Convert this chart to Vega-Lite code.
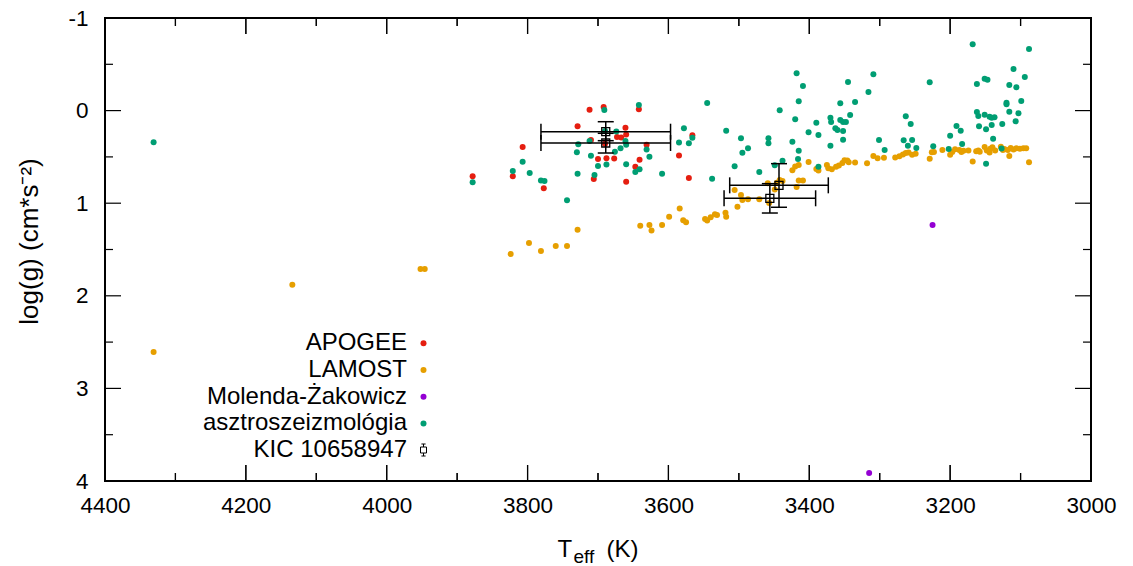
{
"$schema": "https://vega.github.io/schema/vega-lite/v6.json",
"width": 986, "height": 463,
"autosize": {"type": "none"},
"padding": {"left": 105, "top": 18, "right": 42, "bottom": 85},
"background": "white",
"config": {
  "view": {"stroke": "black", "strokeWidth": 2},
  "font": "Liberation Sans",
  "axis": {"labelFont": "Liberation Sans", "labelFontSize": 22.5, "labelColor": "black", "titleFont": "Liberation Sans", "titleFontSize": 24, "titleColor": "black", "titleFontWeight": "normal", "domain": false, "grid": false, "labelFlush": false, "labelOverlap": false},
  "legend": {"labelFont": "Liberation Sans", "labelFontSize": 24, "labelColor": "black", "labelLimit": 0}
},
"datasets": {
  "xtk": [{"tx":4400,"m":"major"},{"tx":4300,"m":"minor"},{"tx":4200,"m":"major"},{"tx":4100,"m":"minor"},{"tx":4000,"m":"major"},{"tx":3900,"m":"minor"},{"tx":3800,"m":"major"},{"tx":3700,"m":"minor"},{"tx":3600,"m":"major"},{"tx":3500,"m":"minor"},{"tx":3400,"m":"major"},{"tx":3300,"m":"minor"},{"tx":3200,"m":"major"},{"tx":3100,"m":"minor"},{"tx":3000,"m":"major"}],
  "ytk": [{"ty":-1,"m":"major"},{"ty":-0.5,"m":"minor"},{"ty":0,"m":"major"},{"ty":0.5,"m":"minor"},{"ty":1,"m":"major"},{"ty":1.5,"m":"minor"},{"ty":2,"m":"major"},{"ty":2.5,"m":"minor"},{"ty":3,"m":"major"},{"ty":3.5,"m":"minor"},{"ty":4,"m":"major"}],
  "cat": [
{"T":3878,"g":0.709,"src":"APOGEE"},{"T":3821,"g":0.709,"src":"APOGEE"},{"T":3807,"g":0.393,"src":"APOGEE"},{"T":3777,"g":0.839,"src":"APOGEE"},{"T":3729,"g":0.170,"src":"APOGEE"},{"T":3712,"g":-0.010,"src":"APOGEE"},{"T":3710,"g":0.317,"src":"APOGEE"},{"T":3706,"g":0.739,"src":"APOGEE"},{"T":3700,"g":0.523,"src":"APOGEE"},{"T":3692,"g":-0.039,"src":"APOGEE"},{"T":3690,"g":0.357,"src":"APOGEE"},{"T":3688,"g":0.515,"src":"APOGEE"},{"T":3677,"g":0.517,"src":"APOGEE"},{"T":3673,"g":0.285,"src":"APOGEE"},{"T":3667,"g":0.290,"src":"APOGEE"},{"T":3661,"g":0.185,"src":"APOGEE"},{"T":3660,"g":0.258,"src":"APOGEE"},{"T":3660,"g":0.768,"src":"APOGEE"},{"T":3647,"g":0.607,"src":"APOGEE"},{"T":3642,"g":-0.014,"src":"APOGEE"},{"T":3641,"g":0.530,"src":"APOGEE"},{"T":3631,"g":0.368,"src":"APOGEE"},{"T":3585,"g":0.485,"src":"APOGEE"},{"T":3571,"g":0.728,"src":"APOGEE"},{"T":3566,"g":0.266,"src":"APOGEE"},
{"T":4331,"g":2.607,"src":"LAMOST"},{"T":4134,"g":1.880,"src":"LAMOST"},{"T":3952,"g":1.711,"src":"LAMOST"},{"T":3946,"g":1.711,"src":"LAMOST"},{"T":3824,"g":1.549,"src":"LAMOST"},{"T":3798,"g":1.430,"src":"LAMOST"},{"T":3781,"g":1.516,"src":"LAMOST"},{"T":3760,"g":1.462,"src":"LAMOST"},{"T":3744,"g":1.462,"src":"LAMOST"},{"T":3729,"g":1.286,"src":"LAMOST"},{"T":3640,"g":1.244,"src":"LAMOST"},{"T":3627,"g":1.235,"src":"LAMOST"},{"T":3624,"g":1.295,"src":"LAMOST"},{"T":3609,"g":1.235,"src":"LAMOST"},{"T":3599,"g":1.146,"src":"LAMOST"},{"T":3584,"g":1.057,"src":"LAMOST"},{"T":3579,"g":1.184,"src":"LAMOST"},{"T":3575,"g":1.206,"src":"LAMOST"},{"T":3548,"g":1.171,"src":"LAMOST"},{"T":3545,"g":1.187,"src":"LAMOST"},{"T":3540,"g":1.152,"src":"LAMOST"},{"T":3534,"g":1.120,"src":"LAMOST"},{"T":3531,"g":1.127,"src":"LAMOST"},{"T":3519,"g":1.104,"src":"LAMOST"},{"T":3518,"g":1.146,"src":"LAMOST"},{"T":3506,"g":0.857,"src":"LAMOST"},{"T":3502,"g":1.038,"src":"LAMOST"},{"T":3497,"g":0.911,"src":"LAMOST"},{"T":3495,"g":0.965,"src":"LAMOST"},{"T":3487,"g":0.957,"src":"LAMOST"},{"T":3471,"g":0.958,"src":"LAMOST"},{"T":3459,"g":0.785,"src":"LAMOST"},{"T":3457,"g":0.998,"src":"LAMOST"},{"T":3449,"g":0.852,"src":"LAMOST"},{"T":3446,"g":0.779,"src":"LAMOST"},{"T":3442,"g":0.749,"src":"LAMOST"},{"T":3438,"g":0.760,"src":"LAMOST"},{"T":3424,"g":0.644,"src":"LAMOST"},{"T":3420,"g":0.604,"src":"LAMOST"},{"T":3415,"g":0.587,"src":"LAMOST"},{"T":3418,"g":0.825,"src":"LAMOST"},{"T":3415,"g":0.755,"src":"LAMOST"},{"T":3409,"g":0.755,"src":"LAMOST"},{"T":3401,"g":0.555,"src":"LAMOST"},{"T":3390,"g":0.631,"src":"LAMOST"},{"T":3387,"g":0.647,"src":"LAMOST"},{"T":3375,"g":0.587,"src":"LAMOST"},{"T":3373,"g":0.623,"src":"LAMOST"},{"T":3368,"g":0.634,"src":"LAMOST"},{"T":3362,"g":0.606,"src":"LAMOST"},{"T":3358,"g":0.593,"src":"LAMOST"},{"T":3353,"g":0.566,"src":"LAMOST"},{"T":3350,"g":0.537,"src":"LAMOST"},{"T":3346,"g":0.539,"src":"LAMOST"},{"T":3344,"g":0.558,"src":"LAMOST"},{"T":3335,"g":0.560,"src":"LAMOST"},{"T":3318,"g":0.569,"src":"LAMOST"},{"T":3309,"g":0.490,"src":"LAMOST"},{"T":3303,"g":0.515,"src":"LAMOST"},{"T":3294,"g":0.509,"src":"LAMOST"},{"T":3278,"g":0.506,"src":"LAMOST"},{"T":3272,"g":0.494,"src":"LAMOST"},{"T":3267,"g":0.474,"src":"LAMOST"},{"T":3263,"g":0.458,"src":"LAMOST"},{"T":3259,"g":0.453,"src":"LAMOST"},{"T":3254,"g":0.477,"src":"LAMOST"},{"T":3249,"g":0.465,"src":"LAMOST"},{"T":3229,"g":0.519,"src":"LAMOST"},{"T":3226,"g":0.449,"src":"LAMOST"},{"T":3223,"g":0.447,"src":"LAMOST"},{"T":3211,"g":0.425,"src":"LAMOST"},{"T":3200,"g":0.477,"src":"LAMOST"},{"T":3197,"g":0.447,"src":"LAMOST"},{"T":3193,"g":0.418,"src":"LAMOST"},{"T":3187,"g":0.425,"src":"LAMOST"},{"T":3184,"g":0.447,"src":"LAMOST"},{"T":3181,"g":0.433,"src":"LAMOST"},{"T":3174,"g":0.431,"src":"LAMOST"},{"T":3168,"g":0.550,"src":"LAMOST"},{"T":3163,"g":0.440,"src":"LAMOST"},{"T":3160,"g":0.431,"src":"LAMOST"},{"T":3158,"g":0.444,"src":"LAMOST"},{"T":3151,"g":0.393,"src":"LAMOST"},{"T":3148,"g":0.431,"src":"LAMOST"},{"T":3144,"g":0.453,"src":"LAMOST"},{"T":3143,"g":0.411,"src":"LAMOST"},{"T":3140,"g":0.396,"src":"LAMOST"},{"T":3136,"g":0.431,"src":"LAMOST"},{"T":3128,"g":0.391,"src":"LAMOST"},{"T":3125,"g":0.425,"src":"LAMOST"},{"T":3123,"g":0.415,"src":"LAMOST"},{"T":3118,"g":0.425,"src":"LAMOST"},{"T":3116,"g":0.490,"src":"LAMOST"},{"T":3114,"g":0.404,"src":"LAMOST"},{"T":3110,"g":0.420,"src":"LAMOST"},{"T":3106,"g":0.407,"src":"LAMOST"},{"T":3101,"g":0.412,"src":"LAMOST"},{"T":3096,"g":0.407,"src":"LAMOST"},{"T":3092,"g":0.407,"src":"LAMOST"},{"T":3088,"g":0.557,"src":"LAMOST"},
{"T":3225,"g":1.236,"src":"Molenda-Żakowicz"},{"T":3315,"g":3.914,"src":"Molenda-Żakowicz"},
{"T":4331,"g":0.342,"src":"asztroszeizmológia"},{"T":3878,"g":0.774,"src":"asztroszeizmológia"},{"T":3821,"g":0.652,"src":"asztroszeizmológia"},{"T":3807,"g":0.552,"src":"asztroszeizmológia"},{"T":3797,"g":0.674,"src":"asztroszeizmológia"},{"T":3781,"g":0.755,"src":"asztroszeizmológia"},{"T":3776,"g":0.760,"src":"asztroszeizmológia"},{"T":3744,"g":0.968,"src":"asztroszeizmológia"},{"T":3730,"g":0.450,"src":"asztroszeizmológia"},{"T":3728,"g":0.364,"src":"asztroszeizmológia"},{"T":3729,"g":0.681,"src":"asztroszeizmológia"},{"T":3712,"g":0.328,"src":"asztroszeizmológia"},{"T":3710,"g":0.487,"src":"asztroszeizmológia"},{"T":3705,"g":0.695,"src":"asztroszeizmológia"},{"T":3700,"g":0.598,"src":"asztroszeizmológia"},{"T":3691,"g":-0.006,"src":"asztroszeizmológia"},{"T":3690,"g":0.220,"src":"asztroszeizmológia"},{"T":3688,"g":0.582,"src":"asztroszeizmológia"},{"T":3676,"g":0.444,"src":"asztroszeizmológia"},{"T":3674,"g":0.226,"src":"asztroszeizmológia"},{"T":3668,"g":0.407,"src":"asztroszeizmológia"},{"T":3661,"g":0.328,"src":"asztroszeizmológia"},{"T":3660,"g":0.368,"src":"asztroszeizmológia"},{"T":3660,"g":0.580,"src":"asztroszeizmológia"},{"T":3647,"g":0.663,"src":"asztroszeizmológia"},{"T":3641,"g":0.634,"src":"asztroszeizmológia"},{"T":3642,"g":-0.060,"src":"asztroszeizmológia"},{"T":3631,"g":0.420,"src":"asztroszeizmológia"},{"T":3627,"g":0.498,"src":"asztroszeizmológia"},{"T":3609,"g":0.683,"src":"asztroszeizmológia"},{"T":3585,"g":0.344,"src":"asztroszeizmológia"},{"T":3578,"g":0.191,"src":"asztroszeizmológia"},{"T":3571,"g":0.353,"src":"asztroszeizmológia"},{"T":3566,"g":0.294,"src":"asztroszeizmológia"},{"T":3545,"g":-0.082,"src":"asztroszeizmológia"},{"T":3538,"g":0.736,"src":"asztroszeizmológia"},{"T":3518,"g":0.217,"src":"asztroszeizmológia"},{"T":3506,"g":0.601,"src":"asztroszeizmológia"},{"T":3497,"g":0.299,"src":"asztroszeizmológia"},{"T":3495,"g":0.455,"src":"asztroszeizmológia"},{"T":3487,"g":0.407,"src":"asztroszeizmológia"},{"T":3471,"g":0.663,"src":"asztroszeizmológia"},{"T":3458,"g":0.299,"src":"asztroszeizmológia"},{"T":3458,"g":0.353,"src":"asztroszeizmológia"},{"T":3449,"g":0.591,"src":"asztroszeizmológia"},{"T":3442,"g":-0.003,"src":"asztroszeizmológia"},{"T":3438,"g":0.541,"src":"asztroszeizmológia"},{"T":3424,"g":0.336,"src":"asztroszeizmológia"},{"T":3420,"g":0.094,"src":"asztroszeizmológia"},{"T":3418,"g":-0.403,"src":"asztroszeizmológia"},{"T":3415,"g":-0.100,"src":"asztroszeizmológia"},{"T":3415,"g":0.433,"src":"asztroszeizmológia"},{"T":3416,"g":0.523,"src":"asztroszeizmológia"},{"T":3409,"g":-0.266,"src":"asztroszeizmológia"},{"T":3401,"g":0.234,"src":"asztroszeizmológia"},{"T":3390,"g":0.131,"src":"asztroszeizmológia"},{"T":3387,"g":0.264,"src":"asztroszeizmológia"},{"T":3387,"g":0.606,"src":"asztroszeizmológia"},{"T":3370,"g":0.077,"src":"asztroszeizmológia"},{"T":3369,"g":0.123,"src":"asztroszeizmológia"},{"T":3370,"g":0.379,"src":"asztroszeizmológia"},{"T":3363,"g":0.191,"src":"asztroszeizmológia"},{"T":3360,"g":0.209,"src":"asztroszeizmológia"},{"T":3356,"g":0.102,"src":"asztroszeizmológia"},{"T":3356,"g":-0.079,"src":"asztroszeizmológia"},{"T":3352,"g":0.123,"src":"asztroszeizmológia"},{"T":3348,"g":0.123,"src":"asztroszeizmológia"},{"T":3352,"g":0.220,"src":"asztroszeizmológia"},{"T":3352,"g":0.314,"src":"asztroszeizmológia"},{"T":3345,"g":-0.309,"src":"asztroszeizmológia"},{"T":3342,"g":0.048,"src":"asztroszeizmológia"},{"T":3335,"g":-0.093,"src":"asztroszeizmológia"},{"T":3316,"g":-0.201,"src":"asztroszeizmológia"},{"T":3309,"g":-0.392,"src":"asztroszeizmológia"},{"T":3301,"g":0.317,"src":"asztroszeizmológia"},{"T":3293,"g":0.425,"src":"asztroszeizmológia"},{"T":3266,"g":0.321,"src":"asztroszeizmológia"},{"T":3263,"g":0.062,"src":"asztroszeizmológia"},{"T":3260,"g":0.379,"src":"asztroszeizmológia"},{"T":3256,"g":0.145,"src":"asztroszeizmológia"},{"T":3254,"g":0.317,"src":"asztroszeizmológia"},{"T":3248,"g":0.404,"src":"asztroszeizmológia"},{"T":3229,"g":-0.306,"src":"asztroszeizmológia"},{"T":3224,"g":0.386,"src":"asztroszeizmológia"},{"T":3202,"g":0.415,"src":"asztroszeizmológia"},{"T":3200,"g":0.271,"src":"asztroszeizmológia"},{"T":3191,"g":0.166,"src":"asztroszeizmológia"},{"T":3185,"g":0.217,"src":"asztroszeizmológia"},{"T":3183,"g":0.361,"src":"asztroszeizmológia"},{"T":3168,"g":-0.716,"src":"asztroszeizmológia"},{"T":3162,"g":-0.287,"src":"asztroszeizmológia"},{"T":3162,"g":0.015,"src":"asztroszeizmológia"},{"T":3160,"g":0.058,"src":"asztroszeizmológia"},{"T":3159,"g":0.170,"src":"asztroszeizmológia"},{"T":3151,"g":0.044,"src":"asztroszeizmológia"},{"T":3151,"g":-0.344,"src":"asztroszeizmológia"},{"T":3147,"g":-0.334,"src":"asztroszeizmológia"},{"T":3149,"g":0.202,"src":"asztroszeizmológia"},{"T":3149,"g":0.573,"src":"asztroszeizmológia"},{"T":3144,"g":0.066,"src":"asztroszeizmológia"},{"T":3141,"g":0.077,"src":"asztroszeizmológia"},{"T":3141,"g":0.155,"src":"asztroszeizmológia"},{"T":3139,"g":0.303,"src":"asztroszeizmológia"},{"T":3137,"g":0.072,"src":"asztroszeizmológia"},{"T":3127,"g":0.409,"src":"asztroszeizmológia"},{"T":3126,"g":0.145,"src":"asztroszeizmológia"},{"T":3120,"g":-0.085,"src":"asztroszeizmológia"},{"T":3120,"g":-0.068,"src":"asztroszeizmológia"},{"T":3116,"g":-0.276,"src":"asztroszeizmológia"},{"T":3116,"g":0.012,"src":"asztroszeizmológia"},{"T":3110,"g":-0.449,"src":"asztroszeizmológia"},{"T":3107,"g":0.116,"src":"asztroszeizmológia"},{"T":3106,"g":-0.252,"src":"asztroszeizmológia"},{"T":3103,"g":0.029,"src":"asztroszeizmológia"},{"T":3099,"g":-0.104,"src":"asztroszeizmológia"},{"T":3094,"g":-0.363,"src":"asztroszeizmológia"},{"T":3088,"g":-0.665,"src":"asztroszeizmológia"}
  ],
  "kic": [
{"T":3689,"g":0.228,"Tlo":3597,"Thi":3781,"glo":0.120,"ghi":0.325,"kic":"KIC 10658947"},
{"T":3689,"g":0.350,"Tlo":3597,"Thi":3781,"glo":0.245,"ghi":0.458,"kic":"KIC 10658947"},
{"T":3443,"g":0.807,"Tlo":3373,"Thi":3513,"glo":0.573,"ghi":1.044,"kic":"KIC 10658947"},
{"T":3456,"g":0.947,"Tlo":3391,"Thi":3521,"glo":0.789,"ghi":1.106,"kic":"KIC 10658947"}
  ]
},
"resolve": {"axis": {"x": "independent", "y": "independent"}},
"layer": [
  {
    "data": {"name": "cat"},
    "mark": {"type": "point", "filled": true, "size": 36, "opacity": 1, "shape": "circle", "strokeWidth": 0},
    "encoding": {
      "x": {"field": "T", "type": "quantitative",
        "scale": {"domain": [3000, 4400], "reverse": true, "nice": false, "zero": false},
        "axis": {"orient": "bottom", "values": [4400,4200,4000,3800,3600,3400,3200,3000],
          "format": "d", "ticks": false, "labelPadding": 13,
          "title": "T", "titleX": 452, "titleY": 75, "titleAlign": "left", "titleBaseline": "alphabetic", "titleAngle": 0, "titleFontSize": 24}},
      "y": {"field": "g", "type": "quantitative",
        "scale": {"domain": [-1, 4], "reverse": true, "nice": false, "zero": false},
        "axis": {"orient": "left", "values": [-1,0,1,2,3,4],
          "labelExpr": "'' + datum.value", "ticks": false, "labelPadding": 17,
          "title": "log(g) (cm*s⁻²)", "titleX": -68, "titleY": 223, "titleAngle": -90, "titleAlign": "center", "titleBaseline": "alphabetic", "titleFontSize": 26}},
      "color": {"field": "src", "type": "nominal",
        "scale": {"domain": ["APOGEE", "LAMOST", "Molenda-Żakowicz", "asztroszeizmológia"], "range": ["#e51e10", "#e69f00", "#9400d3", "#009e73"]},
        "legend": {"orient": "none", "legendX": 306.5, "legendY": 313.3, "direction": "vertical", "title": null, "labelAlign": "right", "labelOffset": -28.5, "symbolSize": 36, "symbolType": "circle", "rowPadding": 2.7, "padding": 0, "labelLimit": 0, "labelBaseline": "middle"}}
    }
  },
  {
    "data": {"name": "xtk"},
    "transform": [{"filter": "datum.m === 'major'"}],
    "mark": {"type": "rule", "strokeWidth": 1.2, "strokeDash": [16, 431], "color": "black", "opacity": 1},
    "encoding": {"x": {"field": "tx", "type": "quantitative", "axis": null}}
  },
  {
    "data": {"name": "xtk"},
    "transform": [{"filter": "datum.m === 'minor'"}],
    "mark": {"type": "rule", "strokeWidth": 1.2, "strokeDash": [8, 447], "color": "black", "opacity": 1},
    "encoding": {"x": {"field": "tx", "type": "quantitative", "axis": null}}
  },
  {"data": {"name": "ytk"}, "transform": [{"filter": "datum.ty === 4"}], "mark": {"type": "rule", "strokeWidth": 1.2, "strokeDash": [16, 431], "color": "black"}, "encoding": {"x": {"datum": 4200, "type": "quantitative", "axis": null}}},
  {"data": {"name": "ytk"}, "transform": [{"filter": "datum.ty === 4"}], "mark": {"type": "rule", "strokeWidth": 1.2, "strokeDash": [16, 431], "color": "black"}, "encoding": {"x": {"datum": 4000, "type": "quantitative", "axis": null}}},
  {"data": {"name": "ytk"}, "transform": [{"filter": "datum.ty === 4"}], "mark": {"type": "rule", "strokeWidth": 1.2, "strokeDash": [16, 431], "color": "black"}, "encoding": {"x": {"datum": 3800, "type": "quantitative", "axis": null}}},
  {"data": {"name": "ytk"}, "transform": [{"filter": "datum.ty === 4"}], "mark": {"type": "rule", "strokeWidth": 1.2, "strokeDash": [16, 431], "color": "black"}, "encoding": {"x": {"datum": 3600, "type": "quantitative", "axis": null}}},
  {"data": {"name": "ytk"}, "transform": [{"filter": "datum.ty === 4"}], "mark": {"type": "rule", "strokeWidth": 1.2, "strokeDash": [16, 431], "color": "black"}, "encoding": {"x": {"datum": 3400, "type": "quantitative", "axis": null}}},
  {"data": {"name": "ytk"}, "transform": [{"filter": "datum.ty === 4"}], "mark": {"type": "rule", "strokeWidth": 1.2, "strokeDash": [16, 431], "color": "black"}, "encoding": {"x": {"datum": 3200, "type": "quantitative", "axis": null}}},
  {"data": {"name": "ytk"}, "transform": [{"filter": "datum.ty === 4"}], "mark": {"type": "rule", "strokeWidth": 1.2, "strokeDash": [8, 447], "color": "black"}, "encoding": {"x": {"datum": 4300, "type": "quantitative", "axis": null}}},
  {"data": {"name": "ytk"}, "transform": [{"filter": "datum.ty === 4"}], "mark": {"type": "rule", "strokeWidth": 1.2, "strokeDash": [8, 447], "color": "black"}, "encoding": {"x": {"datum": 4100, "type": "quantitative", "axis": null}}},
  {"data": {"name": "ytk"}, "transform": [{"filter": "datum.ty === 4"}], "mark": {"type": "rule", "strokeWidth": 1.2, "strokeDash": [8, 447], "color": "black"}, "encoding": {"x": {"datum": 3900, "type": "quantitative", "axis": null}}},
  {"data": {"name": "ytk"}, "transform": [{"filter": "datum.ty === 4"}], "mark": {"type": "rule", "strokeWidth": 1.2, "strokeDash": [8, 447], "color": "black"}, "encoding": {"x": {"datum": 3700, "type": "quantitative", "axis": null}}},
  {"data": {"name": "ytk"}, "transform": [{"filter": "datum.ty === 4"}], "mark": {"type": "rule", "strokeWidth": 1.2, "strokeDash": [8, 447], "color": "black"}, "encoding": {"x": {"datum": 3500, "type": "quantitative", "axis": null}}},
  {"data": {"name": "ytk"}, "transform": [{"filter": "datum.ty === 4"}], "mark": {"type": "rule", "strokeWidth": 1.2, "strokeDash": [8, 447], "color": "black"}, "encoding": {"x": {"datum": 3300, "type": "quantitative", "axis": null}}},
  {"data": {"name": "ytk"}, "transform": [{"filter": "datum.ty === 4"}], "mark": {"type": "rule", "strokeWidth": 1.2, "strokeDash": [8, 447], "color": "black"}, "encoding": {"x": {"datum": 3100, "type": "quantitative", "axis": null}}},
  {
    "data": {"name": "ytk"},
    "transform": [{"filter": "datum.m === 'major'"}],
    "mark": {"type": "tick", "orient": "horizontal", "size": 16, "thickness": 1.2, "xOffset": 8, "color": "black", "opacity": 1},
    "encoding": {"y": {"field": "ty", "type": "quantitative", "axis": null}, "x": {"datum": 4400, "type": "quantitative", "axis": null}}
  },
  {
    "data": {"name": "ytk"},
    "transform": [{"filter": "datum.m === 'minor'"}],
    "mark": {"type": "tick", "orient": "horizontal", "size": 8, "thickness": 1.2, "xOffset": 4, "color": "black", "opacity": 1},
    "encoding": {"y": {"field": "ty", "type": "quantitative", "axis": null}, "x": {"datum": 4400, "type": "quantitative", "axis": null}}
  },
  {
    "data": {"name": "ytk"},
    "transform": [{"filter": "datum.m === 'major'"}],
    "mark": {"type": "tick", "orient": "horizontal", "size": 16, "thickness": 1.2, "xOffset": -8, "color": "black", "opacity": 1},
    "encoding": {"y": {"field": "ty", "type": "quantitative", "axis": null}, "x": {"datum": 3000, "type": "quantitative", "axis": null}}
  },
  {
    "data": {"name": "ytk"},
    "transform": [{"filter": "datum.m === 'minor'"}],
    "mark": {"type": "tick", "orient": "horizontal", "size": 8, "thickness": 1.2, "xOffset": -4, "color": "black", "opacity": 1},
    "encoding": {"y": {"field": "ty", "type": "quantitative", "axis": null}, "x": {"datum": 3000, "type": "quantitative", "axis": null}}
  },
  {
    "data": {"name": "kic"},
    "mark": {"type": "rule", "strokeWidth": 1.5, "color": "black"},
    "encoding": {
      "x": {"field": "Tlo", "type": "quantitative", "axis": null},
      "x2": {"field": "Thi"},
      "y": {"field": "g", "type": "quantitative", "axis": null}
    }
  },
  {
    "data": {"name": "kic"},
    "mark": {"type": "rule", "strokeWidth": 1.5, "color": "black"},
    "encoding": {
      "x": {"field": "T", "type": "quantitative", "axis": null},
      "y": {"field": "glo", "type": "quantitative", "axis": null},
      "y2": {"field": "ghi"}
    }
  },
  {
    "data": {"name": "kic"},
    "mark": {"type": "tick", "orient": "vertical", "size": 16, "thickness": 1.5, "color": "black", "opacity": 1},
    "encoding": {
      "x": {"field": "Tlo", "type": "quantitative", "axis": null},
      "y": {"field": "g", "type": "quantitative", "axis": null}
    }
  },
  {
    "data": {"name": "kic"},
    "mark": {"type": "tick", "orient": "vertical", "size": 16, "thickness": 1.5, "color": "black", "opacity": 1},
    "encoding": {
      "x": {"field": "Thi", "type": "quantitative", "axis": null},
      "y": {"field": "g", "type": "quantitative", "axis": null}
    }
  },
  {
    "data": {"name": "kic"},
    "mark": {"type": "tick", "orient": "horizontal", "size": 16, "thickness": 1.5, "color": "black", "opacity": 1},
    "encoding": {
      "x": {"field": "T", "type": "quantitative", "axis": null},
      "y": {"field": "glo", "type": "quantitative", "axis": null}
    }
  },
  {
    "data": {"name": "kic"},
    "mark": {"type": "tick", "orient": "horizontal", "size": 16, "thickness": 1.5, "color": "black", "opacity": 1},
    "encoding": {
      "x": {"field": "T", "type": "quantitative", "axis": null},
      "y": {"field": "ghi", "type": "quantitative", "axis": null}
    }
  },
  {
    "data": {"name": "kic"},
    "mark": {"type": "point", "shape": "square", "filled": false, "size": 64, "strokeWidth": 1.3, "opacity": 1},
    "encoding": {
      "x": {"field": "T", "type": "quantitative",
        "axis": {"orient": "top", "values": [4400], "labels": false, "ticks": false,
          "title": "eff", "titleFontSize": 19, "titleX": 468, "titleY": 544, "titleAlign": "left", "titleBaseline": "alphabetic", "titleAngle": 0}},
      "y": {"field": "g", "type": "quantitative",
        "axis": {"orient": "right", "values": [4], "labels": false, "ticks": false,
          "title": "(K)", "titleFontSize": 24, "titleX": -485, "titleY": 538, "titleAngle": 0, "titleAlign": "left", "titleBaseline": "alphabetic"}},
      "stroke": {"field": "kic", "type": "nominal",
        "scale": {"domain": ["KIC 10658947"], "range": ["black"]},
        "legend": {"orient": "none", "legendX": 306.5, "legendY": 420, "direction": "vertical", "title": null, "labelAlign": "right", "labelOffset": -28.5, "symbolSize": 36, "symbolType": "M-1,-1H1V1H-1Z M0,-2V-1 M0,1V2 M-0.7,-2H0.7 M-0.7,2H0.7", "symbolStrokeWidth": 1, "symbolFillColor": "transparent", "symbolStrokeColor": "black", "padding": 0, "labelLimit": 0, "labelBaseline": "middle"}}
    }
  }
]
}
